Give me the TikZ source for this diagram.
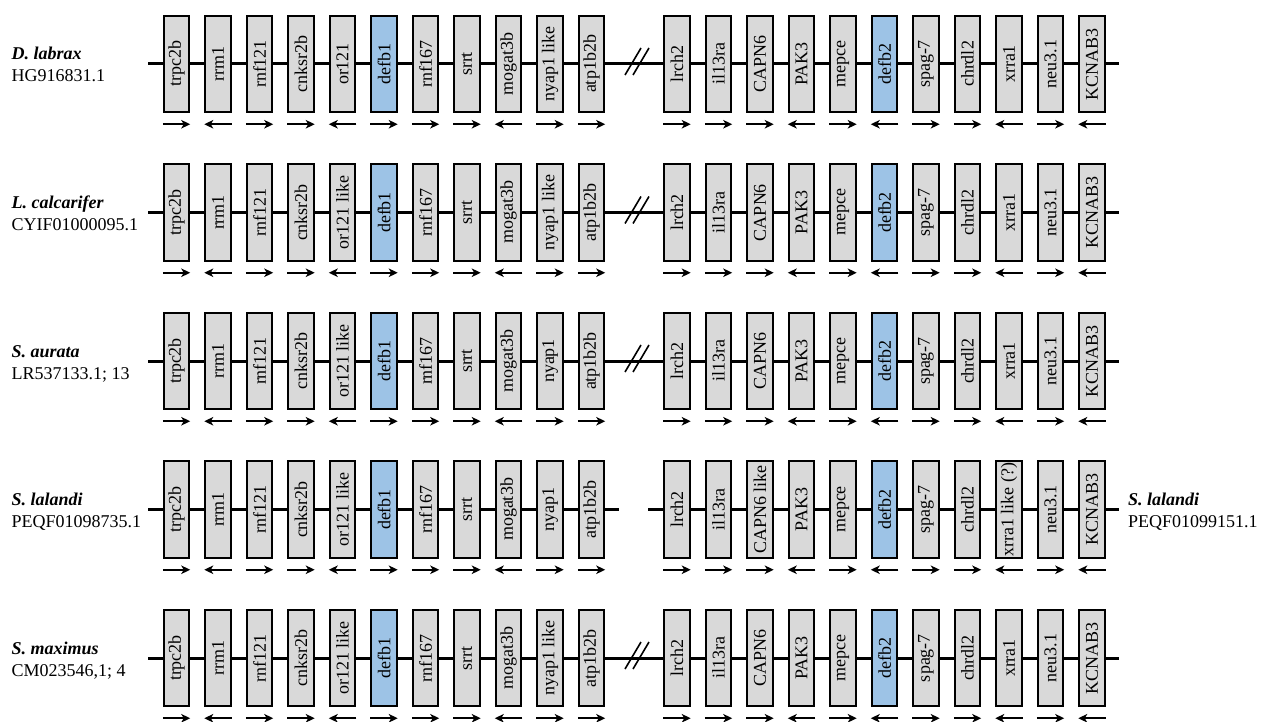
\documentclass[tikz,border=0pt]{standalone}
\usepackage{fontspec}
\setmainfont{Liberation Serif}
\usetikzlibrary{arrows.meta}
\definecolor{genegray}{HTML}{D9D9D9}
\definecolor{geneblue}{HTML}{9DC3E6}
\tikzset{
  gene/.style={draw=black, line width=2pt, minimum width=25.5pt, minimum height=96.5pt, inner sep=0pt},
  backbone/.style={line width=3pt},
  dir/.style={line width=2.3pt, -{Stealth[length=9pt,width=8.5pt,inset=2.5pt]}},
  slash/.style={line width=1.6pt},
  lbl/.style={anchor=base west, inner sep=0pt},
}
\newcommand{\GeneRow}[5]{%
  % #1 id, #2 y, #3 left genes, #4 right genes, #5 1=slash 0=gap
  \foreach \g [count=\i from 0] in {#3} {
    \ifnum\i=5 \def\fc{geneblue}\else\def\fc{genegray}\fi
    \node[gene, fill=\fc] (#1L\i) at ({176.5+41.5*\i}, #2) {\rotatebox{90}{\g}};
  }
  \foreach \g [count=\i from 0] in {#4} {
    \ifnum\i=5 \def\fc{geneblue}\else\def\fc{genegray}\fi
    \node[gene, fill=\fc] (#1R\i) at ({677+41.5*\i}, #2) {\rotatebox{90}{\g}};
  }
  \coordinate (#1s) at (148,#2);
  \coordinate (#1e) at (1119,#2);
  \draw[backbone] (#1s) -- (#1L0);
  \foreach \i in {0,...,9} {
    \pgfmathtruncatemacro\j{\i+1}
    \draw[backbone] (#1L\i) -- (#1L\j);
    \draw[backbone] (#1R\i) -- (#1R\j);
  }
  \draw[backbone] (#1R10) -- (#1e);
  \ifnum#5=1
    \draw[backbone] (#1L10) -- (#1R0);
    \draw[slash] (625,#2+11) -- (641,#2-16);
    \draw[slash] (633,#2+11) -- (649,#2-16);
  \else
    \coordinate (#1m1) at (619,#2);
    \coordinate (#1m2) at (648,#2);
    \draw[backbone] (#1L10) -- (#1m1);
    \draw[backbone] (#1m2) -- (#1R0);
  \fi
  \foreach \d [count=\i from 0] in {r,l,r,r,l,r,r,r,l,r,r} {
    \if\d r
      \draw[dir] ([yshift=-11pt]#1L\i.south west) -- ([yshift=-11pt]#1L\i.south east);
    \else
      \draw[dir] ([yshift=-11pt]#1L\i.south east) -- ([yshift=-11pt]#1L\i.south west);
    \fi
  }
  \foreach \d [count=\i from 0] in {r,r,r,l,r,l,r,r,l,r,l} {
    \if\d r
      \draw[dir] ([yshift=-11pt]#1R\i.south west) -- ([yshift=-11pt]#1R\i.south east);
    \else
      \draw[dir] ([yshift=-11pt]#1R\i.south east) -- ([yshift=-11pt]#1R\i.south west);
    \fi
  }
}
\begin{document}
\begin{tikzpicture}[x=1pt, y=-1pt, font=\fontsize{18}{21}\selectfont]
\useasboundingbox (0,0) rectangle (1263,722);

\GeneRow{a}{64}{trpc2b,rrm1,rnf121,cnksr2b,or121,defb1,rnf167,srrt,mogat3b,nyap1 like,atp1b2b}{lrch2,il13ra,CAPN6,PAK3,mepce,defb2,spag-7,chrdl2,xrra1,neu3.1,KCNAB3}{1}
\node[lbl] (an) at (11.5,60) {\textbf{\textit{D. labrax}}};
\node[lbl] (aa) at (11.5,82) {HG916831.1};

\GeneRow{b}{212.5}{trpc2b,rrm1,rnf121,cnksr2b,or121 like,defb1,rnf167,srrt,mogat3b,nyap1 like,atp1b2b}{lrch2,il13ra,CAPN6,PAK3,mepce,defb2,spag-7,chrdl2,xrra1,neu3.1,KCNAB3}{1}
\node[lbl] (bn) at (11.5,208.5) {\textbf{\textit{L. calcarifer}}};
\node[lbl] (ba) at (11.5,230.5) {CYIF01000095.1};

\GeneRow{c}{361}{trpc2b,rrm1,rnf121,cnksr2b,or121 like,defb1,rnf167,srrt,mogat3b,nyap1,atp1b2b}{lrch2,il13ra,CAPN6,PAK3,mepce,defb2,spag-7,chrdl2,xrra1,neu3.1,KCNAB3}{1}
\node[lbl] (cn) at (11.5,357) {\textbf{\textit{S. aurata}}};
\node[lbl] (ca) at (11.5,379) {LR537133.1; 13};

\GeneRow{d}{509.5}{trpc2b,rrm1,rnf121,cnksr2b,or121 like,defb1,rnf167,srrt,mogat3b,nyap1,atp1b2b}{lrch2,il13ra,CAPN6 like,PAK3,mepce,defb2,spag-7,chrdl2,xrra1 like (?),neu3.1,KCNAB3}{0}
\node[lbl] (dn) at (11.5,505.5) {\textbf{\textit{S. lalandi}}};
\node[lbl] (da) at (11.5,527.5) {PEQF01098735.1};
\node[lbl] (dn2) at (1128,505.5) {\textbf{\textit{S. lalandi}}};
\node[lbl] (da2) at (1128,527.5) {PEQF01099151.1};

\GeneRow{e}{658}{trpc2b,rrm1,rnf121,cnksr2b,or121 like,defb1,rnf167,srrt,mogat3b,nyap1 like,atp1b2b}{lrch2,il13ra,CAPN6,PAK3,mepce,defb2,spag-7,chrdl2,xrra1,neu3.1,KCNAB3}{1}
\node[lbl] (en) at (11.5,654) {\textbf{\textit{S. maximus}}};
\node[lbl] (ea) at (11.5,676) {CM023546,1; 4};
\end{tikzpicture}
\end{document}
